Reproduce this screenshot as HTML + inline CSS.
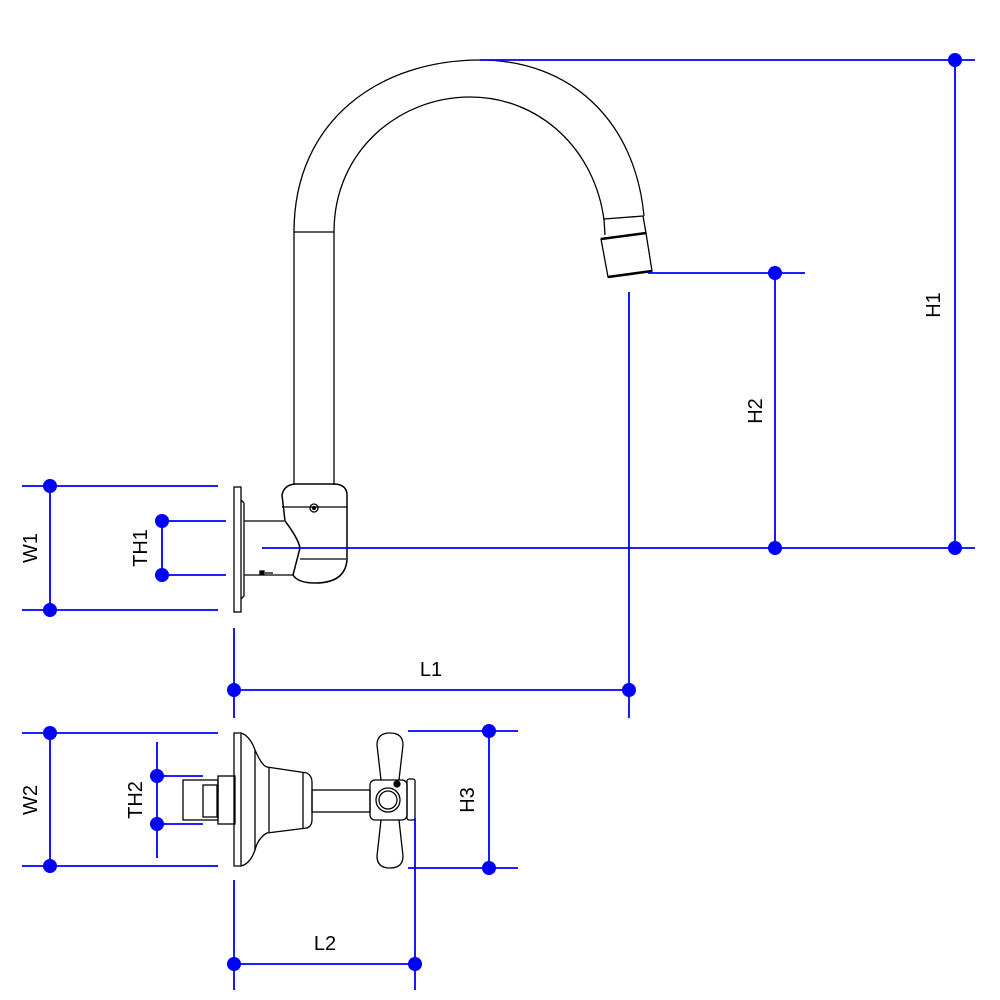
<!DOCTYPE html>
<html><head><style>html,body{margin:0;padding:0;background:#fff}svg{display:block}</style></head>
<body>
<svg width="1000" height="1000" viewBox="0 0 1000 1000" xmlns="http://www.w3.org/2000/svg">
<g fill="none" stroke="#000" stroke-width="1.3">
<path d="M294,232 C294,120 380,60 480,60 C570,60 635,120 644,216"/>
<path d="M334,232 C334,150 400,97 470,97 C540,97 595,150 604,220"/>
<line x1="294" y1="232" x2="334" y2="232"/>
<line x1="294" y1="232" x2="294" y2="485"/>
<line x1="334" y1="232" x2="334" y2="485"/>
<line x1="604" y1="219" x2="643" y2="216"/>
<line x1="604" y1="219" x2="605" y2="235"/>
<line x1="643" y1="216" x2="646" y2="233"/>
<line x1="601" y1="239" x2="646" y2="233" stroke-width="2.5"/>
<path d="M601,239 L646,233 L652,271 L608,277 Z"/>
<line x1="608" y1="277" x2="652" y2="271" stroke-width="2.5"/>
<rect x="234" y="487" width="7" height="125"/>
<path d="M241,500 L244,503 L244,596 L241,599"/>
<path d="M244,521 L284,521"/>
<path d="M244,575 L294,575"/>
<path d="M282,495 Q284,485 295,484 L335,484 Q347,485 347,495 L347,560 Q345,583 315,583 Q298,583 293,575 L300,548 Q298,538 285,521 Z" stroke-width="1.5"/>
<line x1="282" y1="507" x2="347" y2="507"/>
<line x1="300" y1="559" x2="346" y2="559"/>
<circle cx="314" cy="508" r="4"/>
<circle cx="314" cy="508" r="1.5" fill="#000"/>
<rect x="260" y="571" width="4" height="3" fill="#000"/>
<line x1="265" y1="573" x2="273" y2="573"/>
<rect x="183" y="780" width="35" height="40"/>
<rect x="203" y="785" width="14" height="32"/>
<rect x="218" y="776" width="17" height="48"/>
<path d="M234,733 L241,733 Q250,736 255,750 Q262,766 267,767 L307,773 Q312,776 312,782 L312,820 Q312,826 307,828 L267,833 Q258,838 255,850 Q250,864 241,866 L234,866 Z"/>
<line x1="241" y1="733" x2="241" y2="866"/>
<line x1="255" y1="750" x2="255" y2="850"/>
<line x1="269" y1="767" x2="269" y2="833"/>
<line x1="303" y1="772" x2="303" y2="828"/>
<rect x="312" y="790" width="58" height="22"/>
<rect x="370" y="780" width="37" height="40" rx="5"/>
<circle cx="388" cy="800" r="12"/>
<circle cx="388" cy="800" r="9"/>
<circle cx="397" cy="784" r="3" fill="#000"/>
<rect x="407" y="779" width="8" height="41" rx="2"/>
<path d="M381,780 L377,745 Q377,733 390,733 Q403,733 403,745 L399,780"/>
<path d="M381,820 L377,856 Q377,868 390,868 Q403,868 403,856 L399,820"/>
</g>
<g stroke="#0000ff" stroke-width="1.8" fill="none">
<line x1="480" y1="60" x2="975" y2="60"/>
<line x1="955" y1="60" x2="955" y2="548"/>
<line x1="262" y1="548" x2="975" y2="548"/>
<line x1="648" y1="273" x2="805" y2="273"/>
<line x1="775" y1="273" x2="775" y2="548"/>
<line x1="629" y1="292" x2="629" y2="718"/>
<line x1="234" y1="628" x2="234" y2="718"/>
<line x1="234" y1="690" x2="629" y2="690"/>
<line x1="22" y1="486" x2="218" y2="486"/>
<line x1="22" y1="610" x2="218" y2="610"/>
<line x1="50" y1="486" x2="50" y2="610"/>
<line x1="155" y1="521" x2="226" y2="521"/>
<line x1="155" y1="575" x2="226" y2="575"/>
<line x1="162" y1="521" x2="162" y2="575"/>
<line x1="22" y1="733" x2="218" y2="733"/>
<line x1="22" y1="866" x2="218" y2="866"/>
<line x1="50" y1="733" x2="50" y2="866"/>
<line x1="150" y1="776" x2="203" y2="776"/>
<line x1="150" y1="824" x2="203" y2="824"/>
<line x1="157" y1="742" x2="157" y2="858"/>
<line x1="408" y1="731" x2="518" y2="731"/>
<line x1="408" y1="868" x2="518" y2="868"/>
<line x1="489" y1="731" x2="489" y2="868"/>
<line x1="234" y1="880" x2="234" y2="990"/>
<line x1="415" y1="818" x2="415" y2="990"/>
<line x1="234" y1="964" x2="415" y2="964"/>
</g>
<g fill="#0000ff">
<circle cx="955" cy="60" r="7"/><circle cx="955" cy="548" r="7"/>
<circle cx="775" cy="273" r="7"/><circle cx="775" cy="548" r="7"/>
<circle cx="234" cy="690" r="7"/><circle cx="629" cy="690" r="7"/>
<circle cx="50" cy="486" r="7"/><circle cx="50" cy="610" r="7"/>
<circle cx="162" cy="521" r="7"/><circle cx="162" cy="575" r="7"/>
<circle cx="50" cy="733" r="7"/><circle cx="50" cy="866" r="7"/>
<circle cx="157" cy="776" r="7"/><circle cx="157" cy="824" r="7"/>
<circle cx="489" cy="731" r="7"/><circle cx="489" cy="868" r="7"/>
<circle cx="234" cy="964" r="7"/><circle cx="415" cy="964" r="7"/>
</g>
<g font-family="Liberation Sans, sans-serif" font-size="20" fill="#000" text-anchor="middle">
<text transform="translate(940,305) rotate(-90)">H1</text>
<text transform="translate(762,411) rotate(-90)">H2</text>
<text x="431" y="676">L1</text>
<text transform="translate(37,548) rotate(-90)">W1</text>
<text transform="translate(147,548) rotate(-90)">TH1</text>
<text transform="translate(37,800) rotate(-90)">W2</text>
<text transform="translate(142,800) rotate(-90)">TH2</text>
<text transform="translate(474,800) rotate(-90)">H3</text>
<text x="325" y="950">L2</text>
</g>
</svg>
</body></html>
